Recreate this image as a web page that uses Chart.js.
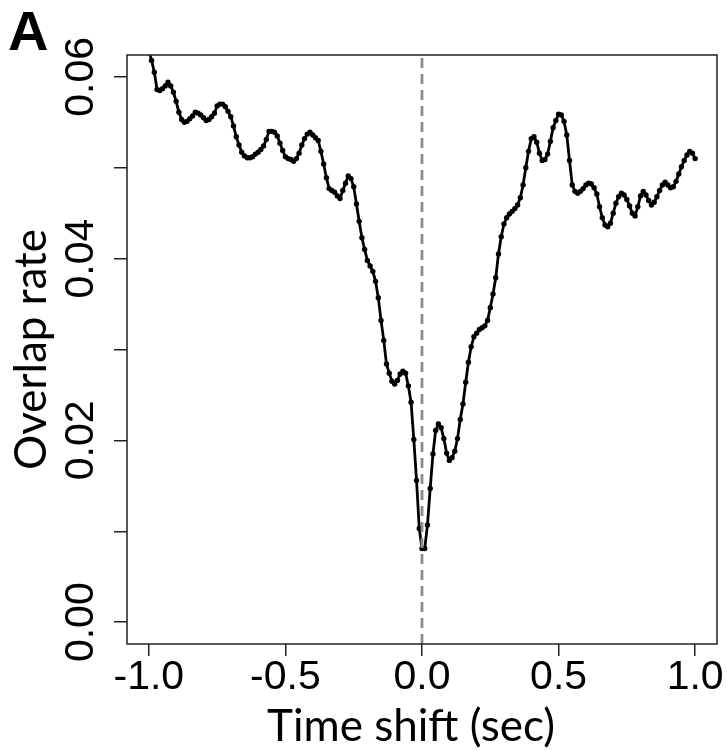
<!DOCTYPE html>
<html>
<head>
<meta charset="utf-8">
<title>Overlap rate vs time shift</title>
<script src="https://cdn.jsdelivr.net/npm/chart.js@4.4.1/dist/chart.umd.min.js"></script>
<style>
  html, body { margin: 0; padding: 0; background: #fff; }
  #overlapChart { display: block; }
</style>
</head>
<body>
<canvas id="overlapChart" width="727" height="750"></canvas>
<script>
// Text strings
panelLetter = "A";
xAxisTitle = "Time shift (sec)";
yAxisTitle = "Overlap rate";

// Time shift of every sample (sec)
var timeShift = [
  -1.00, -0.99, -0.98, -0.97, -0.96, -0.95, -0.94, -0.93, -0.92, -0.91,
  -0.90, -0.89, -0.88, -0.87, -0.86, -0.85, -0.84, -0.83, -0.82, -0.81,
  -0.80, -0.79, -0.78, -0.77, -0.76, -0.75, -0.74, -0.73, -0.72, -0.71,
  -0.70, -0.69, -0.68, -0.67, -0.66, -0.65, -0.64, -0.63, -0.62, -0.61,
  -0.60, -0.59, -0.58, -0.57, -0.56, -0.55, -0.54, -0.53, -0.52, -0.51,
  -0.50, -0.49, -0.48, -0.47, -0.46, -0.45, -0.44, -0.43, -0.42, -0.41,
  -0.40, -0.39, -0.38, -0.37, -0.36, -0.35, -0.34, -0.33, -0.32, -0.31,
  -0.30, -0.29, -0.28, -0.27, -0.26, -0.25, -0.24, -0.23, -0.22, -0.21,
  -0.20, -0.19, -0.18, -0.17, -0.16, -0.15, -0.14, -0.13, -0.12, -0.11,
  -0.10, -0.09, -0.08, -0.07, -0.06, -0.05, -0.04, -0.03, -0.02, -0.01,
  0.00,
  0.01, 0.02, 0.03, 0.04, 0.05, 0.06, 0.07, 0.08, 0.09, 0.10,
  0.11, 0.12, 0.13, 0.14, 0.15, 0.16, 0.17, 0.18, 0.19, 0.20,
  0.21, 0.22, 0.23, 0.24, 0.25, 0.26, 0.27, 0.28, 0.29, 0.30,
  0.31, 0.32, 0.33, 0.34, 0.35, 0.36, 0.37, 0.38, 0.39, 0.40,
  0.41, 0.42, 0.43, 0.44, 0.45, 0.46, 0.47, 0.48, 0.49, 0.50,
  0.51, 0.52, 0.53, 0.54, 0.55, 0.56, 0.57, 0.58, 0.59, 0.60,
  0.61, 0.62, 0.63, 0.64, 0.65, 0.66, 0.67, 0.68, 0.69, 0.70,
  0.71, 0.72, 0.73, 0.74, 0.75, 0.76, 0.77, 0.78, 0.79, 0.80,
  0.81, 0.82, 0.83, 0.84, 0.85, 0.86, 0.87, 0.88, 0.89, 0.90,
  0.91, 0.92, 0.93, 0.94, 0.95, 0.96, 0.97, 0.98, 0.99, 1.00
];

// Overlap rate, one value per time shift
var overlapRate = [
  0.0629, 0.0618, 0.0605, 0.0586, 0.0585, 0.0587, 0.0590, 0.0594, 0.0590, 0.0583,
  0.0573, 0.0561, 0.0553, 0.0550, 0.0551, 0.0554, 0.0557, 0.0561, 0.0560, 0.0558,
  0.0555, 0.0552, 0.0553, 0.0556, 0.0560, 0.0568, 0.0570, 0.0570, 0.0567, 0.0562,
  0.0556, 0.0546, 0.0534, 0.0525, 0.0517, 0.0513, 0.0511, 0.0511, 0.0512, 0.0515,
  0.0517, 0.0520, 0.0524, 0.0531, 0.0540, 0.0540, 0.0539, 0.0535, 0.0527, 0.0519,
  0.0512, 0.0510, 0.0509, 0.0507, 0.0510, 0.0516, 0.0525, 0.0532, 0.0537, 0.0539,
  0.0536, 0.0533, 0.0530, 0.0518, 0.0504, 0.0489, 0.0477, 0.0475, 0.0473, 0.0469,
  0.0466, 0.0475, 0.0483, 0.0491, 0.0488, 0.0479, 0.0460, 0.0441, 0.0423, 0.0410,
  0.0398, 0.0392, 0.0386, 0.0375, 0.0357, 0.0332, 0.0310, 0.0284, 0.0274, 0.0265,
  0.0262, 0.0266, 0.0273, 0.0276, 0.0274, 0.0260, 0.0242, 0.0201, 0.0156, 0.0103,
  0.0081,
  0.0081, 0.0107, 0.0147, 0.0185, 0.0211, 0.0218, 0.0214, 0.0202, 0.0186, 0.0178,
  0.0181, 0.0188, 0.0202, 0.0223, 0.0240, 0.0264, 0.0286, 0.0303, 0.0314, 0.0318,
  0.0322, 0.0324, 0.0326, 0.0332, 0.0346, 0.0361, 0.0379, 0.0405, 0.0424, 0.0438,
  0.0445, 0.0449, 0.0452, 0.0455, 0.0459, 0.0467, 0.0481, 0.0500, 0.0518, 0.0532,
  0.0534, 0.0528, 0.0516, 0.0508, 0.0509, 0.0515, 0.0529, 0.0544, 0.0552, 0.0559,
  0.0558, 0.0551, 0.0536, 0.0508, 0.0481, 0.0474, 0.0472, 0.0474, 0.0477, 0.0481,
  0.0483, 0.0482, 0.0478, 0.0471, 0.0457, 0.0445, 0.0437, 0.0435, 0.0439, 0.0450,
  0.0461, 0.0468, 0.0472, 0.0470, 0.0465, 0.0458, 0.0450, 0.0447, 0.0457, 0.0469,
  0.0474, 0.0470, 0.0464, 0.0459, 0.0462, 0.0468, 0.0475, 0.0481, 0.0484, 0.0481,
  0.0478, 0.0479, 0.0485, 0.0493, 0.0501, 0.0508, 0.0514, 0.0518, 0.0516, 0.0510
];

// Axis ticks and ranges
var xTickValues = [-1.0, -0.5, 0.0, 0.5, 1.0];
var xTickLabels = ["-1.0", "-0.5", "0.0", "0.5", "1.0"];
var yTickValues = [0.00, 0.01, 0.02, 0.03, 0.04, 0.05, 0.06];
var yTickLabels = ["0.00", "", "0.02", "", "0.04", "", "0.06"];
var xRange = [-1.08, 1.08];
var yRange = [-0.0024, 0.0624];

// Dashed reference line at zero shift
var zeroShift = 0;

// Colors
lineColor = "#000000";
zeroLineColor = "#8c8c8c";
axisColor = "#222222";

var tickFont = {family: "'Liberation Sans', Arial, sans-serif", size: 41};
var titleFont = {family: "Lato, 'Open Sans', sans-serif", size: 44, lineHeight: 1};

var curve = [];
for (var i = 0; i < timeShift.length; i++) {
    curve.push({x: timeShift[i], y: overlapRate[i]});
}

// Box round the plot region, the x axis title and the panel letter
var frameBox = {
    id: 'frameBox',
    afterDraw: function(chart) {
        var ctx = chart.ctx;
        var a = chart.chartArea;
        ctx.save();
        ctx.strokeStyle = axisColor;
        ctx.lineWidth = 1.5;
        ctx.strokeRect(a.left, a.top, a.right - a.left, a.bottom - a.top);
        ctx.fillStyle = "#000";
        ctx.font = "bold 56px 'Liberation Sans', Arial, sans-serif";
        ctx.textBaseline = "alphabetic";
        ctx.textAlign = "left";
        ctx.fillText(panelLetter, 8, 50);
        // title sits a little left of the plot centre in the original
        ctx.font = "44px Lato, 'Open Sans', sans-serif";
        ctx.textAlign = "center";
        ctx.fillText(xAxisTitle, 411, 741);
        ctx.restore();
    }
};

new Chart(document.getElementById('overlapChart'), {
    type: 'line',
    data: {
        datasets: [{
            label: 'zero',
            data: [{x: zeroShift, y: yRange[0]}, {x: zeroShift, y: yRange[1]}],
            borderColor: zeroLineColor,
            borderWidth: 2.8,
            borderDash: [10, 6],
            pointRadius: 0,
            fill: false
        }, {
            label: yAxisTitle,
            data: curve,
            borderColor: lineColor,
            backgroundColor: lineColor,
            borderWidth: 2.8,
            pointRadius: 2.7,
            pointBorderWidth: 0,
            tension: 0,
            fill: false,
            clip: 0
        }]
    },
    options: {
        responsive: false,
        devicePixelRatio: 1,
        animation: false,
        layout: {padding: {top: 55, right: 10, left: 0, bottom: 0}},
        plugins: {legend: {display: false}, tooltip: {enabled: false}},
        scales: {
            x: {
                type: 'linear',
                min: xRange[0],
                max: xRange[1],
                afterBuildTicks: function(scale) {
                    scale.ticks = xTickValues.map(function(v) { return {value: v}; });
                },
                afterFit: function(scale) { scale.height = 106; },
                grid: {drawOnChartArea: false, drawTicks: true, tickLength: 12, color: axisColor, lineWidth: 1.5},
                border: {display: false},
                ticks: {
                    color: '#000',
                    font: tickFont,
                    padding: -3,
                    maxRotation: 0,
                    autoSkip: false,
                    callback: function(v, idx) { return xTickLabels[idx]; }
                },
                title: {display: false}
            },
            y: {
                type: 'linear',
                min: yRange[0],
                max: yRange[1],
                afterBuildTicks: function(scale) {
                    scale.ticks = yTickValues.map(function(v) { return {value: v}; });
                },
                afterFit: function(scale) { scale.width = 127; },
                grid: {drawOnChartArea: false, drawTicks: true, tickLength: 13, color: axisColor, lineWidth: 1.5},
                border: {display: false},
                ticks: {
                    color: '#000',
                    font: tickFont,
                    minRotation: 90,
                    maxRotation: 90,
                    crossAlign: 'center',
                    padding: -8,
                    autoSkip: false,
                    callback: function(v, idx) { return yTickLabels[idx]; }
                },
                title: {display: true, text: yAxisTitle, color: '#000', font: titleFont, padding: {top: 10, bottom: 0}}
            }
        }
    },
    plugins: [frameBox]
});
</script>
</body>
</html>
